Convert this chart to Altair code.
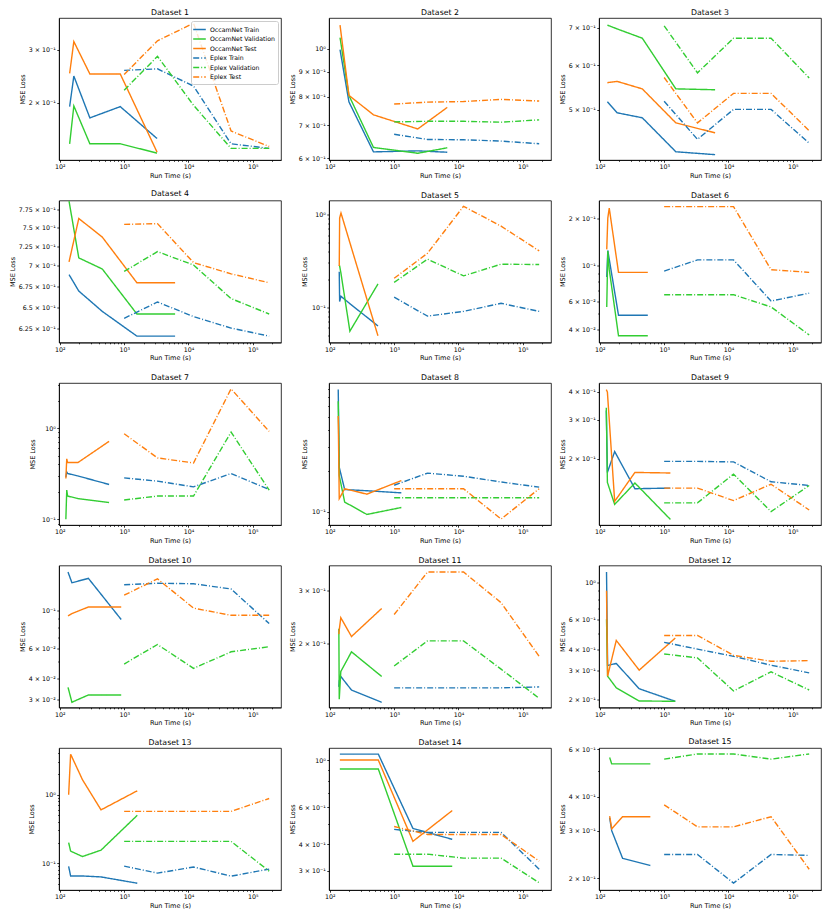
import altair as alt
import pandas as pd

DATASETS = [f"Dataset {i}" for i in range(1, 16)]
SERIES = ["OccamNet Train", "OccamNet Validation", "OccamNet Test",
          "Eplex Train", "Eplex Validation", "Eplex Test"]
COLORS = ["#1f77b4", "#32cd32", "#ff7f0e", "#1f77b4", "#32cd32", "#ff7f0e"]
DASHES = [[1, 0], [1, 0], [1, 0], [6, 2, 1, 2], [6, 2, 1, 2], [6, 2, 1, 2]]

EPLEX_X = [1000, 3300, 12000, 46000, 180000]

OCC_X = [
    [142, 165, 293, 870, 3250],
    [144, 198, 477, 2330, 6700],
    [131, 186, 457, 1520, 6200],
    [139, 197, 457, 1580, 6200],
    [140, 142, 149, 205, 560],
    [128, 133, 140, 195, 557],
    [124, 128, 132, 191, 583],
    [135, 140, 170, 377, 1295],
    [126, 131, 170, 351, 1250],
    [134, 154, 278, 900],
    [138, 140, 148, 217, 640],
    [127, 132, 180, 409, 1490],
    [137, 147, 225, 437, 1600],
    [143, 567, 1960, 8000],
    [142, 153, 226, 610],
]
OCC_TRAIN = [
    [0.194, 0.245, 0.178, 0.194, 0.152],
    [0.997, 0.781, 0.618, 0.621, 0.617],
    [0.517, 0.494, 0.484, 0.421, 0.416],
    [0.689, 0.669, 0.645, 0.617, 0.617],
    [0.241, 0.115, 0.131, 0.109, 0.0626],
    [0.085, 0.125, 0.11, 0.0489, 0.0489],
    [0.29, 0.33, 0.318, 0.299, 0.241],
    [0.80, 0.213, 0.146, 0.143, 0.138],
    [0.33, 0.174, 0.216, 0.147, 0.148],
    [0.17, 0.147, 0.156, 0.089],
    [0.143, 0.150, 0.155, 0.1396, 0.127],
    [1.16, 0.321, 0.330, 0.233, 0.196],
    [0.09, 0.065, 0.065, 0.063, 0.051],
    [1.067, 1.067, 0.476, 0.423],
    [0.335, 0.30, 0.237, 0.223],
]
OCC_VAL = [
    [0.146, 0.195, 0.146, 0.146, 0.136],
    [1.055, 0.805, 0.631, 0.614, 0.630],
    [0.708, 0.697, 0.671, 0.545, 0.543],
    [0.786, 0.710, 0.696, 0.642, 0.642],
    [0.284, 0.279, 0.231, 0.055, 0.178],
    [0.055, 0.124, 0.095, 0.0363, 0.0363],
    [0.10, 0.209, 0.18, 0.169, 0.153],
    [0.656, 0.185, 0.118, 0.0956, 0.1076],
    [0.34, 0.157, 0.125, 0.156, 0.107],
    [0.0353, 0.0288, 0.0318, 0.0318],
    [0.224, 0.130, 0.161, 0.1875, 0.155],
    [0.606, 0.277, 0.236, 0.197, 0.196],
    [0.2, 0.15, 0.125, 0.155, 0.5],
    [0.908, 0.908, 0.316, 0.316],
    [0.56, 0.53, 0.53, 0.53],
]
OCC_TEST = [
    [0.250, 0.319, 0.249, 0.249, 0.137],
    [1.118, 0.805, 0.735, 0.688, 0.761],
    [0.559, 0.562, 0.545, 0.474, 0.455],
    [0.705, 0.762, 0.737, 0.679, 0.679],
    [0.279, 0.92, 1.04, 0.497, 0.049],
    [0.127, 0.20, 0.231, 0.091, 0.091],
    [0.28, 0.46, 0.42, 0.419, 0.716],
    [0.51, 0.125, 0.148, 0.135, 0.17],
    [0.41, 0.40, 0.129, 0.174, 0.173],
    [0.0934, 0.0965, 0.1056, 0.1056],
    [0.215, 0.222, 0.244, 0.211, 0.262],
    [0.897, 0.277, 0.453, 0.301, 0.468],
    [1.0, 3.9, 1.65, 0.6, 1.14],
    [1.0, 1.0, 0.414, 0.578],
    [0.34, 0.305, 0.338, 0.338],
]
EPX_TRAIN = [
    [0.256, 0.259, 0.227, 0.146, 0.141],
    [0.671, 0.655, 0.654, 0.650, 0.642],
    [0.518, 0.443, 0.501, 0.501, 0.436],
    [0.637, 0.656, 0.639, 0.626, 0.617],
    [0.128, 0.080, 0.090, 0.110, 0.090],
    [0.0927, 0.109, 0.109, 0.060, 0.0673],
    [0.285, 0.262, 0.227, 0.318, 0.212],
    [0.157, 0.193, 0.183, 0.166, 0.152],
    [0.195, 0.195, 0.194, 0.158, 0.152],
    [0.143, 0.146, 0.145, 0.135, 0.0842],
    [0.142, 0.142, 0.142, 0.142, 0.143],
    [0.441, 0.402, 0.364, 0.322, 0.29],
    [0.0905, 0.0716, 0.088, 0.0646, 0.082],
    [0.471, 0.456, 0.456, 0.456, 0.306],
    [0.245, 0.245, 0.192, 0.245, 0.243],
]
EPX_VAL = [
    [0.220, 0.285, 0.196, 0.141, 0.141],
    [0.711, 0.713, 0.713, 0.710, 0.718],
    [0.706, 0.582, 0.671, 0.671, 0.570],
    [0.693, 0.718, 0.701, 0.660, 0.642],
    [0.185, 0.330, 0.218, 0.291, 0.289],
    [0.0658, 0.0658, 0.0658, 0.0551, 0.0367],
    [0.163, 0.180, 0.180, 0.904, 0.209],
    [0.127, 0.127, 0.127, 0.127, 0.127],
    [0.127, 0.127, 0.171, 0.116, 0.152],
    [0.0485, 0.0633, 0.0457, 0.0573, 0.0614],
    [0.168, 0.204, 0.204, 0.164, 0.131],
    [0.376, 0.356, 0.226, 0.294, 0.229],
    [0.208, 0.208, 0.208, 0.208, 0.0766],
    [0.36, 0.36, 0.345, 0.345, 0.264],
    [0.552, 0.577, 0.577, 0.552, 0.577],
]
EPX_TEST = [
    [0.248, 0.321, 0.367, 0.161, 0.143],
    [0.773, 0.780, 0.782, 0.790, 0.784],
    [0.571, 0.474, 0.535, 0.535, 0.459],
    [0.754, 0.755, 0.704, 0.690, 0.679],
    [0.205, 0.382, 1.23, 0.75, 0.405],
    [0.236, 0.236, 0.236, 0.0945, 0.091],
    [0.867, 0.471, 0.415, 2.69, 0.92],
    [0.148, 0.148, 0.148, 0.0884, 0.148],
    [0.148, 0.148, 0.130, 0.154, 0.118],
    [0.124, 0.155, 0.104, 0.0943, 0.0943],
    [0.250, 0.347, 0.347, 0.274, 0.181],
    [0.485, 0.485, 0.369, 0.340, 0.343],
    [0.57, 0.57, 0.57, 0.57, 0.88],
    [0.486, 0.446, 0.446, 0.446, 0.334],
    [0.374, 0.31, 0.31, 0.338, 0.216],
]

Y_DOMAIN = [
    [0.129, 0.382], [0.595, 1.156], [0.407, 0.729], [0.610, 0.787], [0.0415, 1.42],
    [0.0329, 0.258], [0.0867, 3.12], [0.0799, 0.893], [0.101, 0.439], [0.0268, 0.186],
    [0.122, 0.365], [0.18, 1.27], [0.0406, 4.8], [0.244, 1.14], [0.181, 0.607],
]
Y_TICKS = [
    [0.2, 0.3],
    [0.6, 0.7, 0.8, 0.9, 1.0],
    [0.5, 0.6, 0.7],
    [0.625, 0.65, 0.675, 0.7, 0.725, 0.75, 0.775],
    [0.1, 1.0],
    [0.04, 0.06, 0.1, 0.2],
    [0.1, 1.0],
    [0.1],
    [0.2, 0.3, 0.4],
    [0.03, 0.04, 0.06, 0.1],
    [0.2, 0.3],
    [0.2, 0.3, 0.4, 0.6, 1.0],
    [0.1, 1.0],
    [0.3, 0.4, 0.6, 1.0],
    [0.2, 0.3, 0.4, 0.6],
]
Y_TICK_LABELS = [
    ["2 × 10⁻¹", "3 × 10⁻¹"],
    ["6 × 10⁻¹", "7 × 10⁻¹", "8 × 10⁻¹", "9 × 10⁻¹", "10⁰"],
    ["5 × 10⁻¹", "6 × 10⁻¹", "7 × 10⁻¹"],
    ["6.25 × 10⁻¹", "6.5 × 10⁻¹", "6.75 × 10⁻¹", "7 × 10⁻¹", "7.25 × 10⁻¹", "7.5 × 10⁻¹", "7.75 × 10⁻¹"],
    ["10⁻¹", "10⁰"],
    ["4 × 10⁻²", "6 × 10⁻²", "10⁻¹", "2 × 10⁻¹"],
    ["10⁻¹", "10⁰"],
    ["10⁻¹"],
    ["2 × 10⁻¹", "3 × 10⁻¹", "4 × 10⁻¹"],
    ["3 × 10⁻²", "4 × 10⁻²", "6 × 10⁻²", "10⁻¹"],
    ["2 × 10⁻¹", "3 × 10⁻¹"],
    ["2 × 10⁻¹", "3 × 10⁻¹", "4 × 10⁻¹", "6 × 10⁻¹", "10⁰"],
    ["10⁻¹", "10⁰"],
    ["3 × 10⁻¹", "4 × 10⁻¹", "6 × 10⁻¹", "10⁰"],
    ["2 × 10⁻¹", "3 × 10⁻¹", "4 × 10⁻¹", "6 × 10⁻¹"],
]
# y-axis label extent (px) for each panel, so titles sit where the reference has them
Y_EXTENT = [32, 32, 32, 42, 20, 32, 22, 20, 32, 32, 32, 32, 23, 32, 32]

X_DOMAIN = [97, 275000]
X_TICKS = [100, 1000, 10000, 100000]
X_TICK_LABELS = ["10²", "10³", "10⁴", "10⁵"]

PANEL_W, PANEL_H = 222, 142
FONT = "DejaVu Sans"


def label_expr(vals, labels):
    expr = "''"
    for v, l in zip(reversed(vals), reversed(labels)):
        expr = f"datum.value == {v!r} ? '{l}' : ({expr})"
    return expr


def minor_values(lo, hi, exclude):
    out = []
    for e in range(-3, 6):
        for m in range(2, 10):
            v = round(m * 10 ** e, 6)
            if lo <= v <= hi and all(abs(v - t) > 1e-9 for t in exclude):
                out.append(v)
    return out


X_MINOR = minor_values(X_DOMAIN[0], X_DOMAIN[1], X_TICKS)


def panel(i):
    rows = []
    occ = [OCC_TRAIN[i], OCC_VAL[i], OCC_TEST[i]]
    epx = [EPX_TRAIN[i], EPX_VAL[i], EPX_TEST[i]]
    for k, ys in enumerate(occ):
        for x, y in zip(OCC_X[i], ys):
            rows.append({"series": SERIES[k], "x": x, "y": y})
    for k, ys in enumerate(epx):
        for x, y in zip(EPLEX_X, ys):
            rows.append({"series": SERIES[3 + k], "x": x, "y": y})
    df = pd.DataFrame(rows)
    base = alt.Chart(df)
    xscale = alt.Scale(type="log", domain=X_DOMAIN, nice=False)
    yscale = alt.Scale(type="log", domain=Y_DOMAIN[i], nice=False)

    if i == 0:
        legend = alt.Legend(title=None, orient="top-right", offset=3, padding=3,
                            fillColor="rgba(255,255,255,0.8)", strokeColor="#cccccc",
                            cornerRadius=2, labelFont=FONT, labelFontSize=6.2,
                            labelColor="black", symbolType="M-1.4,0H1.4",
                            symbolSize=81, symbolStrokeWidth=1.4, rowPadding=0.5,
                            labelOffset=5, labelLimit=0)
    else:
        legend = None

    lines = base.mark_line(strokeWidth=1.4, clip=True).encode(
        x=alt.X("x:Q", scale=xscale,
                axis=alt.Axis(values=X_TICKS, labelExpr=label_expr(X_TICKS, X_TICK_LABELS),
                              title="Run Time (s)", tickSize=2.2, labelFlush=False,
                              labelOverlap=False, titlePadding=2, labelPadding=1.5)),
        y=alt.Y("y:Q", scale=yscale,
                axis=alt.Axis(values=Y_TICKS[i],
                              labelExpr=label_expr(Y_TICKS[i], Y_TICK_LABELS[i]),
                              title="MSE Loss", tickSize=2.2, labelOverlap=False,
                              minExtent=Y_EXTENT[i], maxExtent=Y_EXTENT[i],
                              titlePadding=2, labelPadding=1.5)),
        color=alt.Color("series:N", scale=alt.Scale(domain=SERIES, range=COLORS), legend=legend),
        strokeDash=alt.StrokeDash("series:N", scale=alt.Scale(domain=SERIES, range=DASHES),
                                  legend=legend),
        detail="series:N",
    )

    ymin = minor_values(Y_DOMAIN[i][0], Y_DOMAIN[i][1], Y_TICKS[i]) if i != 3 else []
    yaxis_minor = (alt.Axis(values=ymin, labels=False, tickSize=1.3, domain=False,
                            title=None, orient="left", grid=False)
                   if ymin else None)
    minor = base.mark_point(opacity=0).encode(
        x=alt.X("x:Q", scale=xscale,
                axis=alt.Axis(values=X_MINOR, labels=False, tickSize=1.3, domain=False,
                              title=None, orient="bottom", grid=False)),
        y=alt.Y("y:Q", scale=yscale, axis=yaxis_minor),
    )
    return alt.layer(lines, minor).resolve_axis(x="independent", y="independent").properties(
        width=PANEL_W, height=PANEL_H,
        title=alt.TitleParams(DATASETS[i], fontSize=7.8, font=FONT, fontWeight="normal",
                              color="black", offset=1, anchor="middle"),
    )


chart = alt.concat(*[panel(i) for i in range(15)], columns=3,
                   spacing={"row": 40.5, "column": 48}, bounds="flush")
chart = chart.resolve_scale(color="independent", strokeDash="independent").resolve_legend(
    color="independent", strokeDash="independent")
chart = chart.properties(padding=0).configure_view(stroke="black", strokeWidth=0.8).configure_axis(
    domainColor="black", domainWidth=0.8, tickColor="black", tickWidth=0.8,
    labelFont=FONT, labelFontSize=6.3, labelColor="black",
    titleFont=FONT, titleFontSize=6.5, titleFontWeight="normal", titleColor="black",
    grid=False,
)

chart.save("out.html", embed_options={"renderer": "svg", "actions": False})
